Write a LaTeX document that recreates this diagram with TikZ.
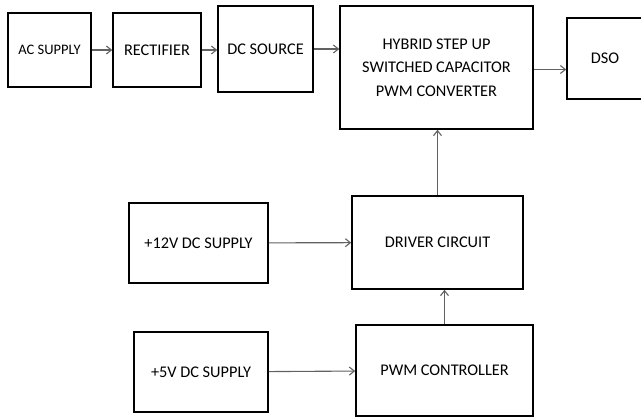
\documentclass[tikz,border=0pt]{standalone}
\usepackage{fontspec}
\setmainfont{Carlito}
\usetikzlibrary{arrows.meta,positioning}

\begin{document}
\begin{tikzpicture}[
  x=1pt, y=-1pt,
  font=\fontsize{16.3}{23.5}\selectfont,
  blk/.style={draw, line width=1.6pt, align=center, inner sep=0pt},
  ar/.style={-{Straight Barb[length=5pt,width=8pt]}, line width=1.1pt, draw=black!62}
]
\path[use as bounding box, clip] (0,0) rectangle (641,418);
% top row
\node[blk, minimum width=83pt, minimum height=74pt, font=\fontsize{14.5}{17}\selectfont] (ac) at (49.5,50) {AC SUPPLY};
\node[blk, minimum width=88pt, minimum height=74pt] (rect) at (157,50) {RECTIFIER};
\node[blk, minimum width=95pt, minimum height=86pt] (dcsrc) at (265.5,49) {DC SOURCE};
\node[blk, minimum width=193pt, minimum height=123pt] (hyb) at (436.5,67.5) {HYBRID STEP UP\\ SWITCHED CAPACITOR\\ PWM CONVERTER};
\node[blk, minimum width=76pt, minimum height=81pt] (dso) at (605,58.5) {DSO};
% driver and supplies
\node[blk, minimum width=139pt, minimum height=80pt] (sup12) at (198.5,243) {+12V DC SUPPLY};
\node[blk, minimum width=171pt, minimum height=93pt] (drv) at (437.5,242.5) {DRIVER CIRCUIT};
\node[blk, minimum width=134pt, minimum height=80pt] (sup5) at (201,372) {+5V DC SUPPLY};
\node[blk, minimum width=177pt, minimum height=91pt] (pwm) at (444.5,370.5) {PWM CONTROLLER};
% connections
\draw[ar] (ac) -- (rect);
\draw[ar] (rect.east) -- (rect.east -| dcsrc.west);
\draw[ar] (dcsrc.east) -- (dcsrc.east -| hyb.west);
\draw[ar] ([yshift=-2pt]hyb.east) -- ([yshift=-2pt]hyb.east -| dso.west);
\draw[ar] (drv.north) -- (drv.north |- hyb.south);
\draw[ar] (sup12) -- (drv);
\draw[ar] (pwm.north) -- (pwm.north |- drv.south);
\draw[ar] (sup5) -- (pwm);
\end{tikzpicture}
\end{document}
